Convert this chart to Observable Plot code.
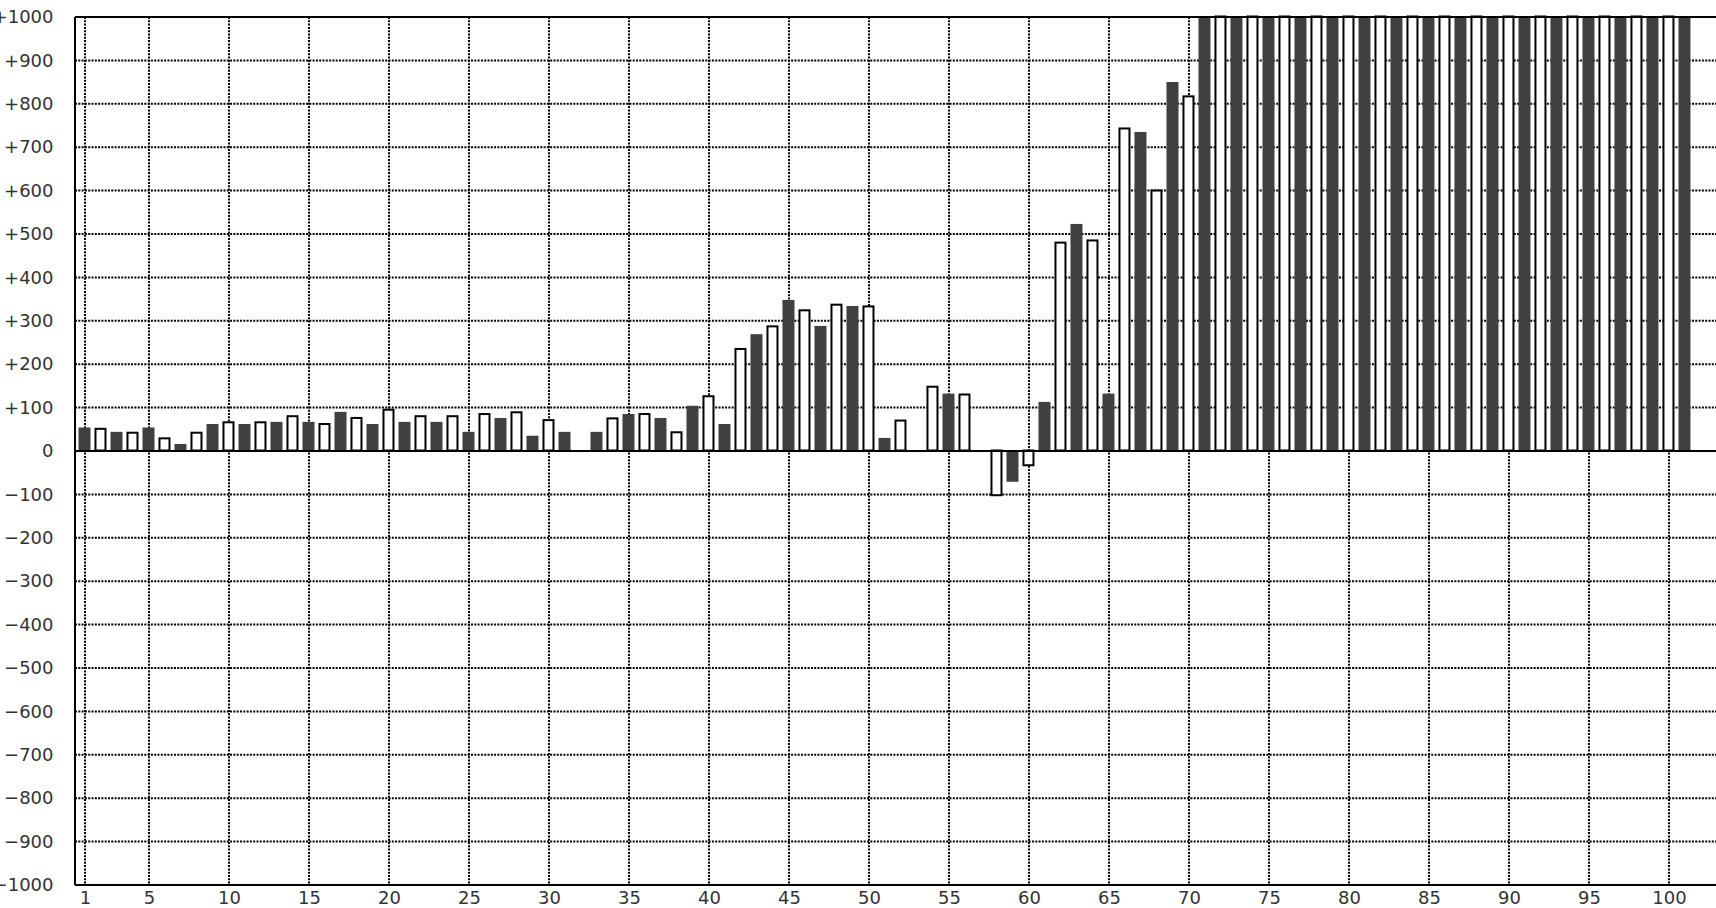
<!DOCTYPE html>
<html>
<head>
<meta charset="utf-8">
<script src="https://cdn.jsdelivr.net/npm/d3@7"></script>
<script src="https://cdn.jsdelivr.net/npm/@observablehq/plot@0.6"></script>
<style>
  html, body { margin: 0; padding: 0; background: #fff; overflow: hidden; }
  #chart svg { display: block; }
</style>
</head>
<body>
<div id="chart"></div>
<script>
// Category index (1..101)
const categories = [
  1,2,3,4,5,6,7,8,9,10,
  11,12,13,14,15,16,17,18,19,20,
  21,22,23,24,25,26,27,28,29,30,
  31,32,33,34,35,36,37,38,39,40,
  41,42,43,44,45,46,47,48,49,50,
  51,52,53,54,55,56,57,58,59,60,
  61,62,63,64,65,66,67,68,69,70,
  71,72,73,74,75,76,77,78,79,80,
  81,82,83,84,85,86,87,88,89,90,
  91,92,93,94,95,96,97,98,99,100,
  101
];
// Values (bars 71..101 run off the top of the chart)
const values = [
  53, 50, 43, 41, 53, 28, 15, 41, 61, 65,
  61, 65, 66, 79, 66, 61, 89, 75, 61, 94,
  66, 79, 66, 79, 43, 84, 75, 88, 34, 70,
  43, 0, 43, 74, 84, 84, 75, 42, 103, 125,
  61, 234, 268, 286, 347, 323, 287, 336, 333, 332,
  29, 69, 0, 147, 131, 129, 0, -103, -72, -34,
  112, 479, 522, 484, 131, 742, 734, 599, 849, 816,
  1000, 1000, 1000, 1000, 1000, 1000, 1000, 1000, 1000, 1000,
  1000, 1000, 1000, 1000, 1000, 1000, 1000, 1000, 1000, 1000,
  1000, 1000, 1000, 1000, 1000, 1000, 1000, 1000, 1000, 1000,
  1000
];
// Tick labels
const xTicks = [1, 5, 10, 15, 20, 25, 30, 35, 40, 45, 50, 55, 60, 65, 70, 75, 80, 85, 90, 95, 100];
const yTicks = [-1000, -900, -800, -700, -600, -500, -400, -300, -200, -100, 0,
                100, 200, 300, 400, 500, 600, 700, 800, 900, 1000];
const yGrid = [-900, -800, -700, -600, -500, -400, -300, -200, -100,
               100, 200, 300, 400, 500, 600, 700, 800, 900];

const data = categories.map((n, i) => ({n, v: values[i], dark: n % 2 === 1}));
const darkBars = data.filter(d => d.dark && d.v !== 0);
const lightBars = data.filter(d => !d.dark && d.v !== 0);

const fmt = d => d > 0 ? "+" + d : d < 0 ? "\u2212" + (-d) : "0";
const xMin = 0.375, xMax = 102.94;
const dot = {stroke: "#000", strokeOpacity: 1, strokeWidth: 2, strokeDasharray: "2,1.3"};

const chart = Plot.plot({
  width: 1716,
  height: 908,
  marginLeft: 75,
  marginRight: 0,
  marginTop: 17,
  marginBottom: 23,
  x: {type: "linear", domain: [xMin, xMax], label: null},
  y: {domain: [-1000, 1000], label: null},
  style: {fontFamily: "'DejaVu Sans', sans-serif", fontSize: "18px", color: "#333", background: "#fff"},
  marks: [
    Plot.ruleY(yGrid, {...dot, dy: -0.5}),
    Plot.ruleX(xTicks, {...dot, dx: -0.5}),
    Plot.rect(darkBars, {
      x1: d => d.n - 0.375, x2: d => d.n + 0.375, y1: 0, y2: "v",
      fill: "#404040", dx: -0.5, dy: -0.5
    }),
    Plot.rect(lightBars, {
      x1: d => d.n - 0.375, x2: d => d.n + 0.375, y1: 0, y2: "v",
      insetLeft: 1, insetRight: 1,
      fill: "#fff", stroke: "#000", strokeWidth: 2, dx: -0.5, dy: -0.5
    }),
    Plot.ruleY([0, 1000, -1000], {stroke: "#000", strokeWidth: 2, dy: -0.5}),
    Plot.ruleX([xMin], {stroke: "#000", strokeWidth: 2, dx: -0.5}),
    Plot.axisY(yTicks, {tickSize: 0, tickPadding: 22, tickFormat: fmt, fill: "#333", fontSize: 18, label: null}),
    Plot.axisX(xTicks, {tickSize: 0, tickPadding: 6, fill: "#333", fontSize: 18, label: null, tickFormat: d => String(d)})
  ]
});
document.getElementById("chart").appendChild(chart);
</script>
</body>
</html>
